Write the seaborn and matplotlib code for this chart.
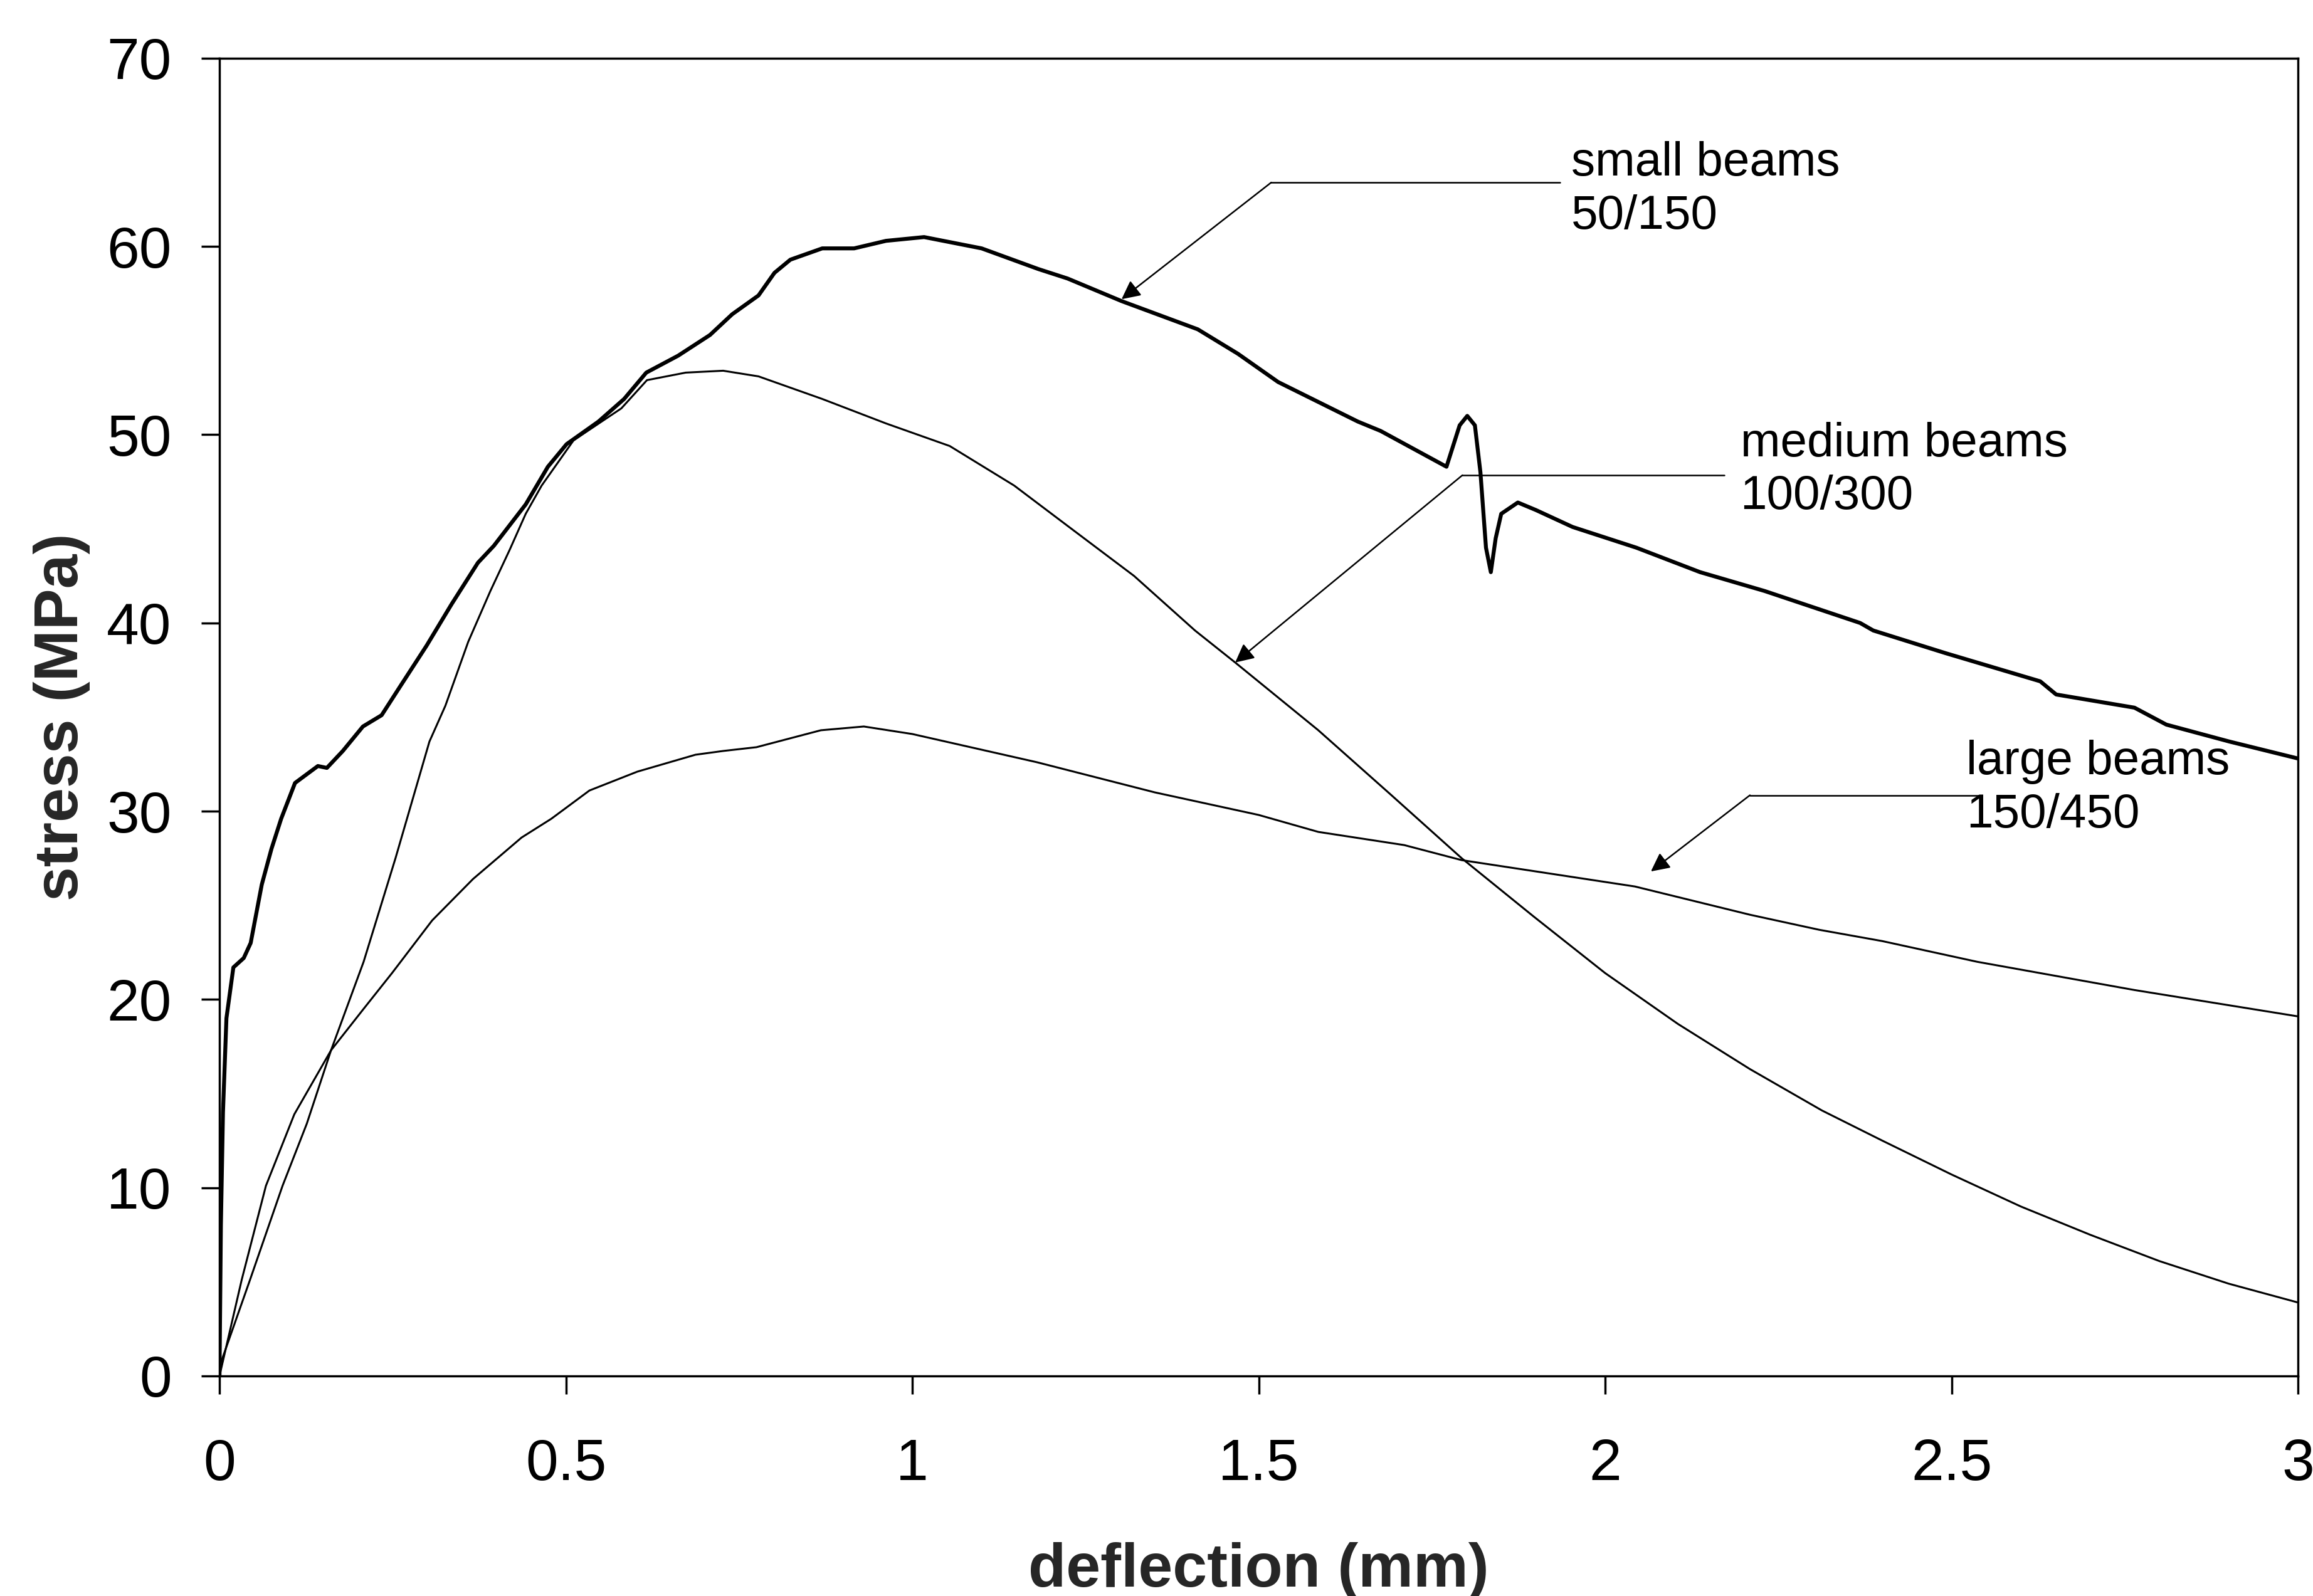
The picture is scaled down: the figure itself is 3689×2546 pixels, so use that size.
import matplotlib
matplotlib.use("Agg")
import matplotlib.pyplot as plt
import seaborn as sns
import pandas as pd

# ---------------- data ----------------
small_x = [0.0, 0.002, 0.005, 0.010, 0.020, 0.035, 0.045, 0.061, 0.075, 0.089, 0.109, 0.142,
           0.155, 0.178, 0.207, 0.234, 0.262, 0.299, 0.335, 0.373, 0.396, 0.442, 0.474, 0.501,
           0.547, 0.584, 0.616, 0.662, 0.708, 0.740, 0.778, 0.801, 0.824, 0.870, 0.916, 0.962,
           1.017, 1.100, 1.182, 1.224, 1.302, 1.412, 1.470, 1.528, 1.643, 1.676, 1.771,
           1.790, 1.801, 1.812, 1.820, 1.828, 1.835, 1.842, 1.850, 1.874, 1.900, 1.953, 2.045,
           2.137, 2.230, 2.368, 2.387, 2.491, 2.628, 2.651, 2.764, 2.810, 2.901, 3.000]
small_y = [0.0, 8.0, 14.0, 19.0, 21.7, 22.2, 23.0, 26.1, 28.0, 29.6, 31.5, 32.4,
           32.3, 33.2, 34.5, 35.1, 36.7, 38.8, 41.0, 43.2, 44.1, 46.3, 48.3, 49.5,
           50.7, 51.9, 53.3, 54.2, 55.3, 56.4, 57.4, 58.6, 59.3, 59.9, 59.9, 60.3,
           60.5, 59.9, 58.8, 58.3, 57.1, 55.6, 54.3, 52.8, 50.7, 50.2, 48.3,
           50.5, 51.0, 50.5, 48.0, 44.0, 42.7, 44.5, 45.8, 46.4, 46.0, 45.1, 44.0,
           42.7, 41.7, 40.0, 39.6, 38.4, 36.9, 36.2, 35.5, 34.6, 33.7, 32.8]

medium_x = [0.0, 0.044, 0.091, 0.126, 0.161, 0.208, 0.254, 0.303, 0.326, 0.359, 0.391, 0.419,
            0.442, 0.465, 0.511, 0.580, 0.617, 0.673, 0.727, 0.778, 0.870, 0.962, 1.054, 1.147,
            1.228, 1.320, 1.408, 1.466, 1.586, 1.690, 1.793, 1.897, 2.000, 2.105, 2.209, 2.313,
            2.400, 2.500, 2.600, 2.700, 2.800, 2.900, 3.000]
medium_y = [0.5, 5.1, 10.1, 13.4, 17.3, 22.0, 27.5, 33.7, 35.6, 39.0, 41.7, 43.9,
            45.8, 47.3, 49.7, 51.4, 52.9, 53.3, 53.4, 53.1, 51.9, 50.6, 49.4, 47.3,
            45.05, 42.5, 39.6, 37.9, 34.3, 30.9, 27.5, 24.4, 21.4, 18.7, 16.3, 14.1,
            12.5, 10.7, 9.0, 7.5, 6.1, 4.9, 3.9]

large_x = [0.0, 0.032, 0.067, 0.108, 0.161, 0.208, 0.249, 0.307, 0.366, 0.436, 0.479, 0.534,
           0.603, 0.687, 0.727, 0.775, 0.868, 0.930, 1.000, 1.180, 1.350, 1.500, 1.586, 1.710,
           1.793, 2.043, 2.209, 2.309, 2.400, 2.537, 2.764, 3.000]
large_y = [0.0, 5.1, 10.1, 13.9, 17.3, 19.5, 21.4, 24.2, 26.4, 28.6, 29.6, 31.1,
           32.1, 33.0, 33.2, 33.4, 34.3, 34.5, 34.1, 32.6, 31.0, 29.8, 28.9, 28.2,
           27.4, 26.0, 24.5, 23.7, 23.1, 22.0, 20.5, 19.1]

x_ticks = [0, 0.5, 1, 1.5, 2, 2.5, 3]
x_tick_labels = ["0", "0.5", "1", "1.5", "2", "2.5", "3"]
y_ticks = [0, 10, 20, 30, 40, 50, 60, 70]
y_tick_labels = ["0", "10", "20", "30", "40", "50", "60", "70"]

labels = ["small beams\n50/150", "medium beams\n100/300", "large beams\n150/450"]
arrow_tips = [(1.302, 57.2), (1.466, 37.9), (2.066, 26.8)]
arrow_corners = [(1.518, 63.4), (1.794, 47.85), (2.209, 30.85)]
leader_ends = [1.935, 2.172, 2.54]
label_pos = [(1.951, 63.0), (2.195, 48.1), (2.521, 31.2)]

# ---------------- style ----------------
sns.set_style("ticks")
plt.rcParams["font.family"] = ["Liberation Sans", "DejaVu Sans"]

fig = plt.figure(figsize=(36.89, 25.46), dpi=100)
ax = fig.add_axes([0.0949, 0.1379, 0.8986, 0.8256])

df_s = pd.DataFrame({"x": small_x, "y": small_y})
df_m = pd.DataFrame({"x": medium_x, "y": medium_y})
df_l = pd.DataFrame({"x": large_x, "y": large_y})

sns.lineplot(data=df_l, x="x", y="y", ax=ax, color="black", linewidth=2.2,
             sort=False, estimator=None)
sns.lineplot(data=df_m, x="x", y="y", ax=ax, color="black", linewidth=2.2,
             sort=False, estimator=None)
sns.lineplot(data=df_s, x="x", y="y", ax=ax, color="black", linewidth=4.5,
             sort=False, estimator=None)

ax.set_xlim(0, 3)
ax.set_ylim(0, 70)
ax.set_xticks(x_ticks)
ax.set_xticklabels(x_tick_labels)
ax.set_yticks(y_ticks)
ax.set_yticklabels(y_tick_labels)
ax.tick_params(axis="x", direction="out", length=21, width=2.5, pad=50,
               labelsize=67, colors="black")
ax.tick_params(axis="y", direction="out", length=21, width=2.5, pad=34,
               labelsize=67, colors="black")
for s in ax.spines.values():
    s.set_visible(True)
    s.set_linewidth(2.5)
    s.set_color("black")

ax.set_xlabel("deflection (mm)", fontsize=71, fontweight="bold")
ax.set_ylabel("stress (MPa)", fontsize=71, fontweight="bold")
ax.xaxis.label.set_va("center")
ax.yaxis.label.set_va("center")
ax.xaxis.set_label_coords(0.5, -0.148)
ax.yaxis.set_label_coords(-0.076, 0.5)

for lab, tip, corner, xend, pos in zip(labels, arrow_tips, arrow_corners,
                                       leader_ends, label_pos):
    ax.plot([corner[0], xend], [corner[1], corner[1]], color="black", linewidth=1.8)
    ax.annotate("", xy=tip, xytext=corner,
                arrowprops=dict(arrowstyle="-|>", color="black", lw=1.8,
                                mutation_scale=45, shrinkA=0, shrinkB=0))
    ax.text(pos[0], pos[1], lab, ha="left", va="center", fontsize=55,
            linespacing=1.25, color="black")

fig.savefig("out.png", dpi=100)
